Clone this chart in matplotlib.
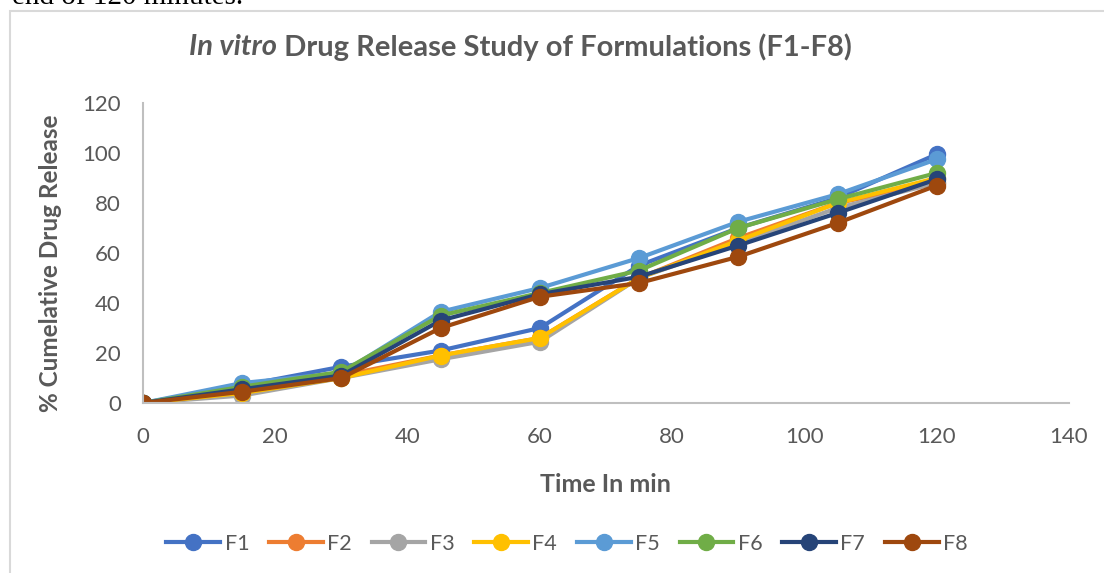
import matplotlib
matplotlib.use('Agg')
import matplotlib.pyplot as plt
from matplotlib.patches import Rectangle

plt.rcParams['font.family'] = ['Lato', 'DejaVu Sans']

# 数据
time_min = [0, 15, 30, 45, 60, 75, 90, 105, 120]
f1 = [0, 7, 14.5, 21, 30, 55, 70, 82, 99.5]
f2 = [0, 5, 11, 19, 26, 50, 66, 80, 88]
f3 = [0, 3, 10, 17.5, 24.5, 50, 64, 78, 88]
f4 = [0, 4, 10, 19, 26, 50, 65, 80, 90]
f5 = [0, 8, 12, 36.5, 46, 58, 72.5, 83.5, 97.5]
f6 = [0, 6.5, 12.5, 35, 44, 53, 70, 81.5, 92]
f7 = [0, 5.5, 11, 33, 43.5, 50.5, 63, 76, 89.5]
f8 = [0, 4.5, 10, 30, 42.5, 48, 58.5, 72, 87]

names = ['F1', 'F2', 'F3', 'F4', 'F5', 'F6', 'F7', 'F8']
series = [f1, f2, f3, f4, f5, f6, f7, f8]
colors = ['#4472C4', '#ED7D31', '#A5A5A5', '#FFC000',
          '#5B9BD5', '#70AD47', '#264478', '#9E480E']

W, H = 1104, 573
fig = plt.figure(figsize=(W / 100, H / 100), dpi=100)
fig.patch.set_facecolor('white')

# 文档里被截断的一行文字
fig.text(12 / W, 1 - 4 / H, 'end of 120 minutes.', family='Liberation Serif',
         fontsize=21, color='black', ha='left', va='baseline')

# 图表外框
fig.patches.append(Rectangle((10 / W, -0.1), 1.2, 1 - 11 / H + 0.1,
                             transform=fig.transFigure, fill=False,
                             edgecolor='#D9D9D9', linewidth=1.5))

ax = fig.add_axes([143 / W, 1 - 403 / H, (1069 - 143) / W, 300 / H])
for name, vals, c in zip(names, series, colors):
    ax.plot(time_min, vals, '-o', color=c, label=name, linewidth=3,
            markersize=11.5)

ax.set_xlim(0, 140)
ax.set_ylim(0, 120)
ax.set_xticks(range(0, 141, 20))
ax.set_yticks(range(0, 121, 20))
for s in ['top', 'right']:
    ax.spines[s].set_visible(False)
for s in ['left', 'bottom']:
    ax.spines[s].set_color('#BFBFBF')
    ax.spines[s].set_linewidth(1.5)
ax.tick_params(length=0, labelsize=16, labelcolor='#595959')
ax.tick_params(axis='x', pad=17)
ax.tick_params(axis='y', pad=16)
ax.set_xlabel('Time In min', fontsize=18, fontweight='bold', color='#595959')
ax.set_ylabel('% Cumelative Drug Release', fontsize=17.5, fontweight='bold',
              color='#595959')
ax.xaxis.set_label_coords(0.499, -0.233)
ax.yaxis.set_label_coords(-0.0875, 0.467)

# 标题（In vitro 斜体）
t1 = fig.text(0, 1 - 47 / H, 'In vitro', fontsize=21, fontweight='bold',
              style='italic', color='#595959', va='center', ha='left')
t2 = fig.text(0, 1 - 47 / H, ' Drug Release Study of Formulations (F1-F8)',
              fontsize=21, fontweight='bold', color='#595959', va='center',
              ha='left')
fig.canvas.draw()
r = fig.canvas.get_renderer()
w1 = t1.get_window_extent(r).width
w2 = t2.get_window_extent(r).width
x0 = 520 - (w1 + w2) / 2
t1.set_x(x0 / W)
t2.set_x((x0 + w1) / W)

fig.legend(loc='center', bbox_to_anchor=(567 / W, 1 - 544 / H), ncol=8,
           frameon=False, fontsize=15.5, labelcolor='#595959',
           handlelength=2.5, handletextpad=0.2, columnspacing=0.92)

fig.savefig('out.png', dpi=100)
